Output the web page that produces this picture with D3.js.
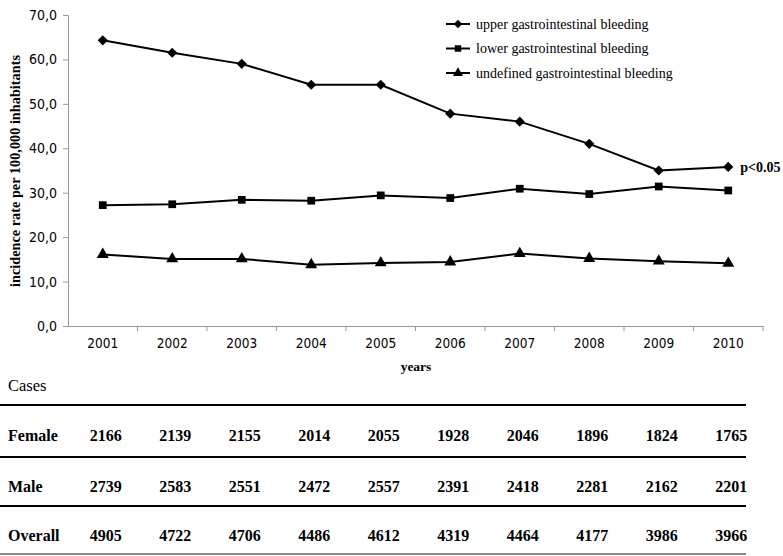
<!DOCTYPE html>
<html>
<head>
<meta charset="utf-8">
<script src="https://cdn.jsdelivr.net/npm/d3@7"></script>
<style>
  body { margin: 0; background: #fff; }
  svg text { fill: #000; }
</style>
</head>
<body>
<div id="chart"></div>
<script>
// chart data
var years = ['2001', '2002', '2003', '2004', '2005', '2006', '2007', '2008', '2009', '2010'];
var upper = [64.3, 61.5, 59.0, 54.3, 54.3, 47.8, 46.0, 41.0, 35.0, 35.8];
var lower = [27.2, 27.4, 28.4, 28.2, 29.4, 28.8, 30.9, 29.7, 31.4, 30.5];
var undefinedBleeding = [16.1, 15.1, 15.1, 13.8, 14.2, 14.4, 16.3, 15.2, 14.6, 14.1];
var yTicks = [0, 10, 20, 30, 40, 50, 60, 70];
var seriesNames = ['upper gastrointestinal bleeding', 'lower gastrointestinal bleeding', 'undefined gastrointestinal bleeding'];
var rowLabels = ['Female', 'Male', 'Overall'];
var female = [2166, 2139, 2155, 2014, 2055, 1928, 2046, 1896, 1824, 1765];
var male = [2739, 2583, 2551, 2472, 2557, 2391, 2418, 2281, 2162, 2201];
var overall = [4905, 4722, 4706, 4486, 4612, 4319, 4464, 4177, 3986, 3966];

var width = 783, height = 556;
var plot = { left: 68, right: 763, top: 15, bottom: 326 };

var svg = d3.select('#chart').append('svg')
            .attr('width', width)
            .attr('height', height);

var x = d3.scaleBand().domain(years).range([plot.left, plot.right]);
var y = d3.scaleLinear().domain([0, 70]).range([plot.bottom, plot.top]);
var cx = function(d) { return x(d) + x.bandwidth() / 2; };

// y axis
var yAxis = svg.append('g')
               .attr('transform', 'translate(' + plot.left + ',0)')
               .call(d3.axisLeft(y).tickValues(yTicks).tickSize(5).tickPadding(6)
                       .tickFormat(function(d) { return d3.format('.1f')(d).replace('.', ','); }));
yAxis.selectAll('text').style('font-family', 'DejaVu Sans Condensed, DejaVu Sans').style('font-size', '14px');

// x axis, ticks between categories
var xAxis = svg.append('g')
               .attr('transform', 'translate(0,' + plot.bottom + ')')
               .call(d3.axisBottom(x).tickSize(0).tickPadding(12));
xAxis.selectAll('text').style('font-family', 'DejaVu Sans Condensed, DejaVu Sans').style('font-size', '13.5px');
xAxis.selectAll('.tick').append('line')
     .attr('x1', x.bandwidth() / 2).attr('x2', x.bandwidth() / 2)
     .attr('y1', 0).attr('y2', 5);
xAxis.append('line')
     .attr('x1', plot.left).attr('x2', plot.left)
     .attr('y1', 0).attr('y2', 5);
svg.selectAll('.domain, .tick line').attr('stroke', '#999');

// axis titles
svg.append('text')
   .attr('transform', 'translate(20,' + 171 + ') rotate(-90)')
   .attr('text-anchor', 'middle')
   .style('font-family', 'Liberation Serif')
   .style('font-weight', 'bold')
   .style('font-size', '14.3px')
   .text('incidence rate per 100,000 inhabitants');

svg.append('text')
   .attr('x', 416).attr('y', 371)
   .attr('text-anchor', 'middle')
   .style('font-family', 'Liberation Serif')
   .style('font-weight', 'bold')
   .style('font-size', '13.5px')
   .text('years');

// series; diamond drawn as a square turned 45 degrees
var series = [
  { name: seriesNames[0], values: upper, symbol: d3.symbolSquare, size: 52, rotate: 45 },
  { name: seriesNames[1], values: lower, symbol: d3.symbolSquare, size: 60, rotate: 0 },
  { name: seriesNames[2], values: undefinedBleeding, symbol: d3.symbolTriangle, size: 62, rotate: 0 }
];

var line = d3.line()
             .x(function(d, i) { return cx(years[i]); })
             .y(function(d) { return y(d); });

series.forEach(function(s) {
  svg.append('path')
     .attr('d', line(s.values))
     .attr('fill', 'none')
     .attr('stroke', '#000')
     .attr('stroke-width', 2);

  svg.selectAll(null)
     .data(s.values)
     .enter()
     .append('path')
     .attr('d', d3.symbol().type(s.symbol).size(s.size))
     .attr('transform', function(d, i) {
       return 'translate(' + cx(years[i]) + ',' + y(d) + ') rotate(' + s.rotate + ')';
     })
     .attr('fill', '#000');
});

// p value note
svg.append('text')
   .attr('x', cx(years[9]) + 12).attr('y', y(upper[9]) + 5)
   .style('font-family', 'Liberation Serif')
   .style('font-weight', 'bold')
   .style('font-size', '14px')
   .text('p<0.05');

// legend
var legend = svg.append('g').attr('transform', 'translate(446,24)');
series.forEach(function(s, i) {
  var g = legend.append('g').attr('transform', 'translate(0,' + (i * 24.5) + ')');
  g.append('line').attr('x1', 0).attr('x2', 24).attr('stroke', '#000').attr('stroke-width', 2);
  g.append('path')
   .attr('d', d3.symbol().type(s.symbol).size(s.size * 0.7))
   .attr('transform', 'translate(12,0) rotate(' + s.rotate + ')');
  g.append('text')
   .attr('x', 30).attr('y', 4.5)
   .style('font-family', 'Liberation Serif')
   .style('font-size', '14px')
   .text(s.name);
});

// cases table
var table = svg.append('g');
table.append('text')
     .attr('x', 8).attr('y', 391)
     .style('font-family', 'Liberation Serif')
     .style('font-size', '16.5px')
     .text('Cases');

var rowLines = [405, 457, 506];
rowLines.forEach(function(ly) {
  table.append('line')
       .attr('x1', 0).attr('x2', 746)
       .attr('y1', ly).attr('y2', ly)
       .attr('stroke', '#000').attr('stroke-width', 2.2);
});
table.append('line')
     .attr('x1', 0).attr('x2', 746)
     .attr('y1', 554).attr('y2', 554)
     .attr('stroke', '#888').attr('stroke-width', 2);

var rows = [female, male, overall];
var rowY = [441, 492, 541];
rows.forEach(function(vals, r) {
  table.append('text')
       .attr('x', 8).attr('y', rowY[r])
       .style('font-family', 'Liberation Serif')
       .style('font-weight', 'bold')
       .style('font-size', '16px')
       .text(rowLabels[r]);
  table.selectAll(null)
       .data(vals)
       .enter()
       .append('text')
       .attr('x', function(d, i) { return cx(years[i]) + 3; })
       .attr('y', rowY[r])
       .attr('text-anchor', 'middle')
       .style('font-family', 'Liberation Serif')
       .style('font-weight', 'bold')
       .style('font-size', '16px')
       .text(function(d) { return d; });
});
</script>
</body>
</html>
